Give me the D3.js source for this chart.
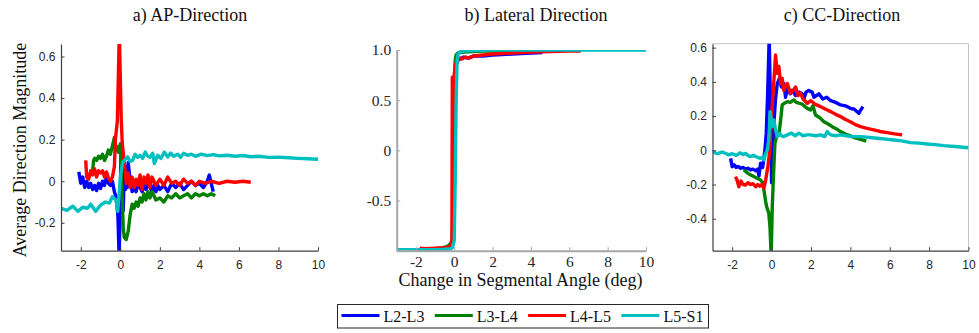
<!DOCTYPE html>
<html><head><meta charset="utf-8">
<script src="https://cdn.jsdelivr.net/npm/d3@7"></script>
<style>body{margin:0;background:#fff} svg{display:block}</style>
</head><body>
<svg id="chart" width="979" height="333"></svg>
<script>
// ---------------- DATA ----------------
const seriesNames = ["L2-L3", "L3-L4", "L4-L5", "L5-S1"];
const seriesColors = ["#0000ff", "#008000", "#ff0000", "#00bfbf"];
const panelTitles = ["a) AP-Direction", "b) Lateral Direction", "c) CC-Direction"];
const xTickValues = [-2, 0, 2, 4, 6, 8, 10];
const apYTicks = [-0.2, 0, 0.2, 0.4, 0.6];
const latYTicks = [-0.5, 0, 0.5, 1.0];
const ccYTicks = [-0.4, -0.2, 0, 0.2, 0.4, 0.6];
const xDomain = [-3, 10];
const apYDomain = [-0.334, 0.66];
const latYDomain = [-1, 1];
const ccYDomain = [-0.587, 0.623];
const yAxisLabel = "Average Direction Magnitude";
const xAxisLabel = "Change in Segmental Angle (deg)";

// a) AP-Direction
const apL23x = [-2.1,-2.0,-1.9,-1.8,-1.7,-1.6,-1.5,-1.4,-1.3,-1.2,-1.1,-1.0,-0.9,-0.8,-0.7,-0.6,-0.5,-0.4,-0.3,-0.2,-0.12,-0.06,-0.02,0.02,0.06,0.1,0.15,0.2,0.25,0.3,0.35,0.4,0.5,0.6,0.7,0.8,0.9,1.0,1.1,1.2,1.3,1.4,1.5,1.6,1.7,1.8,1.9,2.0,2.2,2.4,2.6,2.8,3.0,3.2,3.4,3.6,3.8,4.0,4.2,4.4,4.5,4.6,4.7];
const apL23y = [0.045,-0.01,0.02,-0.03,0.0,-0.03,-0.01,-0.04,-0.02,-0.045,-0.01,-0.035,0.0,-0.02,0.02,-0.01,-0.02,0.0,-0.05,-0.08,-0.17,-0.36,-0.20,0.07,0.18,0.05,-0.14,0.07,-0.04,0.07,-0.03,0.09,0.0,-0.05,-0.02,-0.05,-0.01,-0.03,-0.05,-0.02,-0.04,0.0,-0.03,-0.05,-0.02,-0.05,-0.02,-0.04,-0.02,-0.05,-0.01,-0.03,-0.01,-0.04,-0.02,0.0,-0.02,-0.01,-0.03,0.0,0.03,-0.01,-0.05];
const apL34x = [-1.4,-1.35,-1.3,-1.2,-1.1,-1.0,-0.9,-0.8,-0.7,-0.6,-0.5,-0.4,-0.3,-0.25,-0.2,-0.1,-0.05,0.0,0.05,0.1,0.15,0.2,0.3,0.4,0.5,0.6,0.7,0.8,0.9,1.0,1.1,1.2,1.3,1.4,1.5,1.6,1.7,1.8,2.0,2.2,2.4,2.6,2.8,3.0,3.2,3.4,3.6,3.8,4.0,4.2,4.4,4.6,4.8];
const apL34y = [0.05,0.1,0.11,0.10,0.12,0.11,0.13,0.10,0.12,0.15,0.13,0.17,0.21,0.15,0.17,0.14,0.16,0.18,0.04,-0.09,-0.23,-0.27,-0.28,-0.24,-0.16,-0.11,-0.13,-0.10,-0.12,-0.08,-0.10,-0.06,-0.09,-0.05,-0.08,-0.05,-0.07,-0.09,-0.08,-0.10,-0.07,-0.08,-0.06,-0.08,-0.07,-0.06,-0.08,-0.06,-0.07,-0.06,-0.07,-0.06,-0.07];
const apL45x = [-1.75,-1.7,-1.6,-1.5,-1.4,-1.3,-1.2,-1.1,-1.0,-0.9,-0.8,-0.7,-0.6,-0.5,-0.4,-0.3,-0.25,-0.15,-0.1,-0.05,0.0,0.05,0.1,0.2,0.3,0.4,0.5,0.6,0.7,0.8,0.9,1.0,1.1,1.2,1.3,1.4,1.5,1.6,1.8,2.0,2.2,2.4,2.6,2.8,3.0,3.2,3.4,3.6,3.8,4.0,4.3,4.6,5.0,5.4,5.8,6.2,6.6];
const apL45y = [0.10,0.02,0.01,0.05,0.03,0.06,0.02,0.05,0.04,0.05,0.02,0.045,0.015,0.0,0.02,0.07,0.2,0.29,0.5,0.72,0.5,0.29,0.18,0.09,-0.01,0.04,-0.03,0.02,-0.03,0.01,-0.02,0.03,-0.04,0.02,-0.01,0.03,-0.03,0.02,-0.02,0.01,-0.02,0.02,-0.01,0.0,-0.02,0.01,-0.01,0.0,-0.02,0.0,-0.01,0.0,-0.01,0.0,-0.005,0.0,-0.005];
const apL5S1x = [-3,-2.7,-2.4,-2.15,-1.9,-1.65,-1.5,-1.25,-1.0,-0.75,-0.55,-0.4,-0.22,-0.13,-0.05,0.03,0.12,0.2,0.37,0.5,0.62,0.75,0.88,1.0,1.13,1.26,1.39,1.5,1.64,1.72,1.89,2.05,2.23,2.4,2.55,2.7,2.9,3.05,3.2,3.4,3.6,3.8,4.1,4.4,4.7,5.0,5.4,5.8,6.2,6.6,7.0,7.5,8.0,8.5,9.0,9.5,10];
const apL5S1y = [-0.13,-0.14,-0.12,-0.145,-0.125,-0.13,-0.11,-0.145,-0.115,-0.10,-0.105,-0.075,-0.09,-0.145,-0.05,0.04,0.09,0.10,0.117,0.095,0.10,0.13,0.115,0.125,0.11,0.14,0.12,0.115,0.135,0.085,0.125,0.11,0.14,0.117,0.135,0.12,0.13,0.115,0.135,0.125,0.13,0.12,0.13,0.123,0.128,0.122,0.125,0.12,0.124,0.118,0.12,0.115,0.116,0.113,0.11,0.108,0.106];

// b) Lateral Direction
const latL23x = [-2.1,-1.5,-1.0,-0.5,-0.2,-0.1,0.0,0.05,0.1,0.2,0.3,0.5,0.7,1.0,1.5,2.0,2.5,3.0,3.5,4.0,4.6];
const latL23y = [-0.99,-0.99,-0.985,-0.985,-0.98,-0.95,-0.2,0.6,0.85,0.9,0.91,0.93,0.92,0.94,0.94,0.95,0.955,0.96,0.965,0.97,0.975];
const latL34x = [-1.4,-1.0,-0.6,-0.4,-0.3,-0.2,-0.1,-0.05,0.0,0.05,0.1,0.2,0.3,0.5,1.0,1.5,2.0,3.0,4.0,4.8];
const latL34y = [-0.985,-0.98,-0.97,-0.96,-0.95,-0.93,-0.9,-0.3,0.5,0.9,0.95,0.97,0.975,0.98,0.985,0.99,0.99,0.99,0.995,0.995];
const latL45x = [-1.8,-1.5,-1.0,-0.5,-0.3,-0.2,-0.12,-0.1,-0.05,0.0,0.05,0.1,0.2,0.3,0.4,0.6,0.8,1.0,1.5,2.0,3.0,4.0,5.0,6.0,6.6];
const latL45y = [-0.975,-0.98,-0.975,-0.97,-0.965,-0.95,-0.9,0.73,0.3,0.75,0.85,0.87,0.9,0.92,0.91,0.93,0.92,0.94,0.95,0.96,0.97,0.98,0.985,0.99,0.99];
const latL5S1x = [-3,-2,-1,-0.5,-0.2,-0.1,0.0,0.05,0.1,0.15,0.2,0.3,0.5,1,2,4,6,8,10];
const latL5S1y = [-0.99,-0.99,-0.99,-0.985,-0.98,-0.97,-0.9,-0.3,0.5,0.9,0.96,0.98,0.99,0.995,1.0,1.0,1.0,1.0,1.0];

// c) CC-Direction
const ccL23x = [-2.08,-2.0,-1.9,-1.8,-1.7,-1.57,-1.45,-1.32,-1.2,-1.07,-0.95,-0.8,-0.7,-0.64,-0.56,-0.45,-0.34,-0.27,-0.2,-0.12,-0.06,0.0,0.06,0.12,0.2,0.29,0.4,0.5,0.63,0.71,0.8,0.95,1.05,1.22,1.4,1.55,1.64,1.75,1.89,2.06,2.15,2.4,2.6,2.8,3.0,3.25,3.5,3.75,4.0,4.2,4.43,4.5,4.64];
const ccL23y = [-0.047,-0.096,-0.085,-0.1,-0.095,-0.105,-0.1,-0.11,-0.105,-0.115,-0.11,-0.12,-0.11,-0.15,-0.076,-0.1,0.0,0.1,0.33,0.66,0.3,-0.19,0.0,0.16,0.3,0.39,0.42,0.37,0.39,0.31,0.36,0.33,0.35,0.32,0.34,0.33,0.30,0.34,0.35,0.34,0.31,0.33,0.30,0.31,0.29,0.28,0.265,0.26,0.245,0.24,0.216,0.23,0.255];
const ccL34x = [-1.41,-1.3,-1.2,-1.07,-0.95,-0.8,-0.7,-0.56,-0.45,-0.39,-0.3,-0.25,-0.14,-0.08,-0.02,0.03,0.08,0.17,0.29,0.37,0.46,0.54,0.65,0.8,0.95,1.13,1.25,1.39,1.55,1.7,1.81,1.98,2.1,2.23,2.45,2.66,2.85,3.08,3.3,3.5,3.75,4.0,4.25,4.52,4.81];
const ccL34y = [-0.115,-0.125,-0.135,-0.144,-0.15,-0.16,-0.165,-0.174,-0.19,-0.232,-0.3,-0.33,-0.368,-0.45,-0.62,-0.35,-0.193,0.04,0.1,0.09,0.177,0.265,0.275,0.284,0.28,0.294,0.28,0.275,0.27,0.255,0.245,0.236,0.26,0.206,0.19,0.167,0.155,0.138,0.125,0.109,0.095,0.084,0.072,0.064,0.054];
const ccL45x = [-1.83,-1.75,-1.66,-1.55,-1.45,-1.32,-1.2,-1.07,-0.95,-0.81,-0.7,-0.6,-0.5,-0.39,-0.3,-0.19,-0.09,0.03,0.12,0.2,0.29,0.37,0.46,0.54,0.62,0.7,0.8,0.96,1.1,1.22,1.35,1.47,1.6,1.81,2.0,2.2,2.49,2.75,3.0,3.25,3.5,3.75,4.0,4.25,4.52,4.85,5.19,5.5,5.87,6.25,6.63];
const ccL45y = [-0.154,-0.175,-0.213,-0.18,-0.2,-0.203,-0.19,-0.2,-0.195,-0.213,-0.2,-0.21,-0.2,-0.222,-0.174,-0.096,0.0,0.255,0.41,0.557,0.45,0.49,0.39,0.42,0.35,0.37,0.39,0.333,0.35,0.37,0.32,0.333,0.30,0.275,0.29,0.27,0.255,0.24,0.226,0.21,0.197,0.18,0.167,0.15,0.138,0.128,0.119,0.11,0.103,0.096,0.09];
const ccL5S1x = [-3,-2.75,-2.5,-2.3,-2.17,-2.0,-1.8,-1.6,-1.45,-1.32,-1.2,-1.07,-0.9,-0.75,-0.56,-0.45,-0.39,-0.3,-0.22,-0.14,-0.07,0.03,0.12,0.2,0.29,0.4,0.5,0.62,0.8,1.0,1.2,1.39,1.6,1.8,1.98,2.23,2.5,2.7,2.83,3.0,3.25,3.5,3.8,4.1,4.52,5.0,5.36,5.8,6.21,6.6,7.06,7.5,7.9,8.3,8.75,9.3,10];
const ccL5S1y = [-0.008,-0.02,-0.01,-0.02,-0.027,-0.02,-0.03,-0.015,-0.025,-0.018,-0.03,-0.037,-0.03,-0.04,-0.047,-0.04,-0.057,-0.018,0.002,0.06,0.226,0.138,0.177,0.119,0.08,0.1,0.085,0.08,0.09,0.1,0.085,0.1,0.085,0.09,0.09,0.085,0.09,0.08,0.109,0.09,0.085,0.09,0.085,0.08,0.08,0.075,0.07,0.065,0.06,0.055,0.045,0.042,0.037,0.033,0.027,0.022,0.015];

// ---------------- DRAW ----------------
const svg = d3.select("#chart");
const SERIF = "'Liberation Serif','Times New Roman',Times,serif";
const SANS = "'Liberation Sans',Arial,Helvetica,sans-serif";
const zip = (xs, ys) => xs.map((x, i) => [x, ys[i]]);
const fmt = d => (d === 1 ? "1.0" : String(d));

const panels = [
  { title: panelTitles[0], titleX: 190, xr: [61, 318], yr: [250.7, 44], ydom: apYDomain, yticks: apYTicks,
    font: SANS, fsize: 12, axisColor: "#404040", axisW: 1.2, box: false, xpad: 10, ypad: 5.5,
    series: [zip(apL23x, apL23y), zip(apL34x, apL34y), zip(apL45x, apL45y), zip(apL5S1x, apL5S1y)] },
  { title: panelTitles[1], titleX: 536, xr: [396.7, 646], yr: [250.7, 50], ydom: latYDomain, yticks: latYTicks,
    font: SERIF, fsize: 15.5, axisColor: "#a6a6a6", axisW: 2, box: false, xpad: 5, ypad: 5.5,
    series: [zip(latL23x, latL23y), zip(latL34x, latL34y), zip(latL45x, latL45y), zip(latL5S1x, latL5S1y)] },
  { title: panelTitles[2], titleX: 842, xr: [712.5, 968.5], yr: [250.7, 43.7], ydom: ccYDomain, yticks: ccYTicks,
    font: SANS, fsize: 12, axisColor: "#404040", axisW: 1.2, box: true, xpad: 10, ypad: 5.5,
    series: [zip(ccL23x, ccL23y), zip(ccL34x, ccL34y), zip(ccL45x, ccL45y), zip(ccL5S1x, ccL5S1y)] }
];

panels.forEach((p, pi) => {
  const x = d3.scaleLinear().domain(xDomain).range(p.xr);
  const y = d3.scaleLinear().domain(p.ydom).range(p.yr);
  const g = svg.append("g");
  const clipId = "clip" + pi;
  svg.append("clipPath").attr("id", clipId).append("rect")
    .attr("x", p.xr[0]).attr("y", p.yr[1])
    .attr("width", p.xr[1] - p.xr[0]).attr("height", p.yr[0] - p.yr[1]);

  if (p.box) {
    g.append("path")
      .attr("d", `M${p.xr[0]},${p.yr[1]}H${p.xr[1]}V${p.yr[0]}`)
      .attr("fill", "none").attr("stroke", "#c4c4c4").attr("stroke-width", 1);
  }

  const line = d3.line().x(d => x(d[0])).y(d => y(d[1]));
  const lg = g.append("g").attr("clip-path", `url(#${clipId})`);
  p.series.forEach((s, si) => {
    lg.append("path").datum(s).attr("d", line)
      .attr("fill", "none").attr("stroke", seriesColors[si])
      .attr("stroke-width", 3.4).attr("stroke-linejoin", "round").attr("stroke-linecap", "butt");
  });

  const xAxis = d3.axisBottom(x).tickValues(xTickValues).tickFormat(fmt)
    .tickSizeInner(-3.5).tickSizeOuter(0).tickPadding(p.xpad);
  const yAxis = d3.axisLeft(y).tickValues(p.yticks).tickFormat(fmt)
    .tickSizeInner(-3.5).tickSizeOuter(0).tickPadding(p.ypad);

  [ ["x", xAxis, `translate(0,${p.yr[0]})`], ["y", yAxis, `translate(${p.xr[0]},0)`] ].forEach(([k, ax, tr]) => {
    const a = g.append("g").attr("transform", tr).call(ax);
    a.select(".domain").attr("stroke", p.axisColor).attr("stroke-width", p.axisW);
    a.selectAll(".tick line").attr("stroke", p.axisColor).attr("stroke-width", 1);
    a.selectAll("text").attr("fill", "#262626").style("font-family", p.font).style("font-size", p.fsize + "px");
  });

  svg.append("text").attr("x", p.titleX).attr("y", 21).attr("text-anchor", "middle")
    .style("font-family", SERIF).style("font-size", "18px").attr("fill", "#111")
    .text(p.title);
});

// axis labels
svg.append("text").attr("transform", "translate(25.5,150) rotate(-90)").attr("text-anchor", "middle")
  .style("font-family", SERIF).style("font-size", "18px").attr("fill", "#111").text(yAxisLabel);
svg.append("text").attr("x", 520.5).attr("y", 286).attr("text-anchor", "middle")
  .style("font-family", SERIF).style("font-size", "18px").attr("fill", "#111").text(xAxisLabel);

// legend
const leg = svg.append("g");
const legX0 = 337.5, legStep = 93.3;
leg.append("rect").attr("x", legX0).attr("y", 304.5).attr("width", 371).attr("height", 23.5)
  .attr("fill", "#fff").attr("stroke", "#262626").attr("stroke-width", 1);
seriesNames.forEach((n, i) => {
  const x0 = legX0 + 4 + i * legStep;
  leg.append("line").attr("x1", x0).attr("x2", x0 + 38).attr("y1", 315.5).attr("y2", 315.5)
    .attr("stroke", seriesColors[i]).attr("stroke-width", 3);
  leg.append("text").attr("x", x0 + 42).attr("y", 321.5)
    .style("font-family", SERIF).style("font-size", "16px").attr("fill", "#111").text(n);
});
</script>
</body></html>
